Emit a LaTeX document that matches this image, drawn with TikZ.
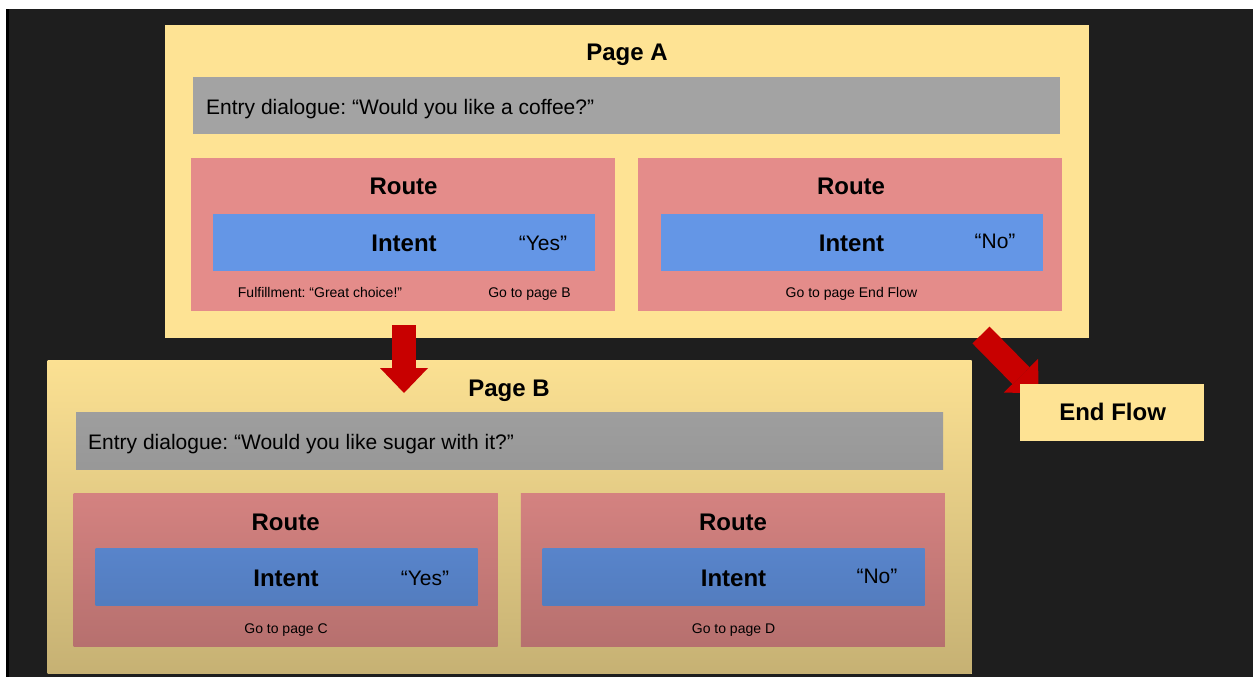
\documentclass[tikz,border=0pt]{standalone}
\usepackage{fontspec}
\setmainfont{Liberation Sans}
\usetikzlibrary{arrows.meta}
\frenchspacing

\definecolor{bgdark}{RGB}{30,30,30}
\definecolor{pageyellow}{RGB}{254,227,148}
\definecolor{entrygray}{RGB}{163,163,163}
\definecolor{routepink}{RGB}{228,140,138}
\definecolor{intentblue}{RGB}{100,150,230}
\definecolor{arrowred}{RGB}{200,0,0}

\tikzset{
  pagebox/.style={fill=pageyellow, inner sep=0pt, minimum width=924pt, minimum height=313pt},
  entrybox/.style={fill=entrygray, inner sep=0pt, minimum width=867pt, minimum height=57pt},
  routebox/.style={fill=routepink, inner sep=0pt, minimum width=424pt, minimum height=153pt},
  intentbox/.style={fill=intentblue, inner sep=0pt, minimum width=382pt, minimum height=57pt},
  endbox/.style={fill=pageyellow, inner sep=0pt, minimum width=184pt, minimum height=57pt},
  headtext/.style={inner sep=0pt, anchor=base, font=\fontsize{24}{28}\selectfont\bfseries},
  saytext/.style={inner sep=0pt, anchor=base, font=\fontsize{21}{25}\selectfont},
  smalltext/.style={inner sep=0pt, anchor=base, font=\fontsize{14}{17}\selectfont},
  bigarrow/.style={draw=arrowred, line width=24pt, -{Triangle[width=48pt,length=25pt,line width=0pt]}}
}

\begin{document}
\begin{tikzpicture}[x=1pt,y=-1pt]
\useasboundingbox (0,0) rectangle (1253,677);
\fill[bgdark] (0,0) rectangle (1253,677);
\fill[white] (0,0) rectangle (1253,9);
\fill[white] (0,0) rectangle (6,677);
\fill[black] (6,9) rectangle (9,677);

% Page A
\node[pagebox] (pageA) at (626.5,181.5) {};
\node[headtext] (pageAtitle) at (627,61) {Page A};
\node[entrybox] (entryA) at (626.75,105.5) {};
\node[saytext, anchor=base west] (entryAtext) at (206,114) {Entry dialogue: “Would you like a coffee?”};
\node[routebox] (routeAyes) at (403.3,234.5) {};
\node[routebox] (routeAno) at (850,234.5) {};
\node[headtext] (routeAyestitle) at (403.5,194) {Route};
\node[headtext] (routeAnotitle) at (851,194) {Route};
\node[intentbox] (intentAyes) at (404,242.3) {};
\node[intentbox] (intentAno) at (851.5,242.3) {};
\node[headtext] (intentAyestext) at (404,251.5) {Intent};
\node[headtext] (intentAnotext) at (851.5,251.5) {Intent};
\node[saytext] (sayAyes) at (543,250) {“Yes”};
\node[saytext] (sayAno) at (995,248) {“No”};
\node[smalltext] (fulfilA) at (320,297) {Fulfillment: “Great choice!”};
\node[smalltext] (gotoB) at (529.5,297) {Go to page B};
\node[smalltext] (gotoEnd) at (851.5,297) {Go to page End Flow};

% Page B
\node[pagebox, top color=pageyellow!99!black, bottom color=pageyellow!78!black] (pageB) at (509.5,517) {};
\node[headtext] (pageBtitle) at (509,396) {Page B};
\node[entrybox, top color=entrygray!97!black, bottom color=entrygray!93!black] (entryB) at (509.5,441) {};
\node[saytext, anchor=base west] (entryBtext) at (88,449.3) {Entry dialogue: “Would you like sugar with it?”};
\node[routebox, top color=routepink!93!black, bottom color=routepink!80!black] (routeByes) at (285.5,569.5) {};
\node[routebox, top color=routepink!93!black, bottom color=routepink!80!black] (routeBno) at (732.8,569.5) {};
\node[headtext] (routeByestitle) at (285.6,530) {Route};
\node[headtext] (routeBnotitle) at (733,530) {Route};
\node[intentbox, top color=intentblue!88!black, bottom color=intentblue!83!black] (intentByes) at (286.5,577.2) {};
\node[intentbox, top color=intentblue!88!black, bottom color=intentblue!83!black] (intentBno) at (733.7,577.2) {};
\node[headtext] (intentByestext) at (286,586.5) {Intent};
\node[headtext] (intentBnotext) at (733.5,586.5) {Intent};
\node[saytext] (sayByes) at (425,585) {“Yes”};
\node[saytext] (sayBno) at (877,583.3) {“No”};
\node[smalltext] (gotoC) at (286,633.3) {Go to page C};
\node[smalltext] (gotoD) at (733.5,633.3) {Go to page D};

% arrows
\coordinate (downfrom) at (404,325);
\coordinate (downto) at (404,393);
\coordinate (diagfrom) at (981,335);
\coordinate (diagto) at (1038.5,393.5);
\draw[bigarrow] (downfrom) -- (downto);
\draw[bigarrow] (diagfrom) -- (diagto);

% End Flow
\node[endbox] (endflow) at (1112,412.5) {};
\node[headtext] (endflowtext) at (1112.6,420) {End Flow};
\end{tikzpicture}
\end{document}
